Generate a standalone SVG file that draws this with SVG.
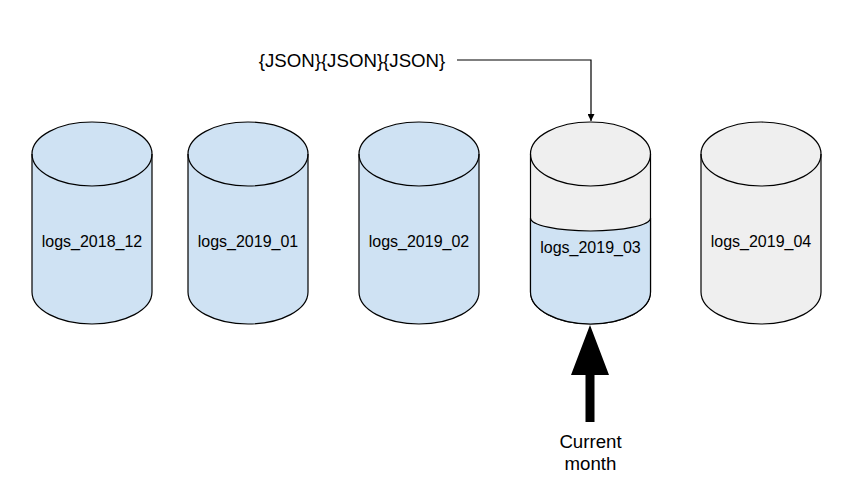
<svg xmlns="http://www.w3.org/2000/svg" width="868" height="500" viewBox="0 0 868 500">
<style>
.cyl{stroke:#000;stroke-width:1.2;}
.blue{fill:#cfe2f3;}
.gray{fill:#efefef;}
.edge{fill:none;stroke:#000;stroke-width:1.2;}
.lbl{font-family:"Liberation Sans",Arial,sans-serif;font-size:16px;fill:#000;text-anchor:middle;}
.big{font-family:"Liberation Sans",Arial,sans-serif;font-size:18.67px;fill:#000;text-anchor:middle;}
</style>
<defs>
<marker id="ah" viewBox="0 0 10 10" refX="10" refY="5" markerWidth="7" markerHeight="7" markerUnits="userSpaceOnUse" orient="auto">
<path d="M0,0 L10,5 L0,10 Z" fill="#000"/>
</marker>
</defs>
<rect width="868" height="500" fill="#fff"/>
<g id="logs_2018_12">
<path class="cyl blue" d="M32,154 A60,32 0 0 1 152,154 L152,292 A60,32 0 0 1 32,292 Z"/>
<path class="edge" d="M32,154 A60,32 0 0 0 152,154"/>
<text class="lbl" x="92" y="247">logs_2018_12</text>
</g>
<g id="logs_2019_01">
<path class="cyl blue" d="M188,154 A60,32 0 0 1 308,154 L308,292 A60,32 0 0 1 188,292 Z"/>
<path class="edge" d="M188,154 A60,32 0 0 0 308,154"/>
<text class="lbl" x="248" y="247">logs_2019_01</text>
</g>
<g id="logs_2019_02">
<path class="cyl blue" d="M359,154 A60,32 0 0 1 479,154 L479,292 A60,32 0 0 1 359,292 Z"/>
<path class="edge" d="M359,154 A60,32 0 0 0 479,154"/>
<text class="lbl" x="419" y="247">logs_2019_02</text>
</g>
<g id="logs_2019_03">
<path class="cyl gray" d="M530.5,154 A60,32 0 0 1 650.5,154 L650.5,292 A60,32 0 0 1 530.5,292 Z"/>
<path class="cyl blue" d="M530.5,218 A60,13 0 0 0 650.5,218 L650.5,292 A60,32 0 0 1 530.5,292 Z"/>
<path class="edge" d="M530.5,154 A60,32 0 0 0 650.5,154"/>
<text class="lbl" x="590.5" y="253">logs_2019_03</text>
</g>
<g id="logs_2019_04">
<path class="cyl gray" d="M701,154 A60,32 0 0 1 821,154 L821,292 A60,32 0 0 1 701,292 Z"/>
<path class="edge" d="M701,154 A60,32 0 0 0 821,154"/>
<text class="lbl" x="761" y="247">logs_2019_04</text>
</g>
<g id="json">
<text class="big" x="352" y="66.5">{JSON}{JSON}{JSON}</text>
</g>
<g id="current_month">
<text class="big" x="590.5" y="448">Current</text>
<text class="big" x="590.5" y="470">month</text>
</g>
<g id="connectors">
<path class="edge" d="M457,60 L591,60 L591,121" marker-end="url(#ah)"/>
<polygon points="590,325 609,375 594.5,375 594.5,422 585.5,422 585.5,375 571,375" fill="#000"/>
</g>
</svg>
